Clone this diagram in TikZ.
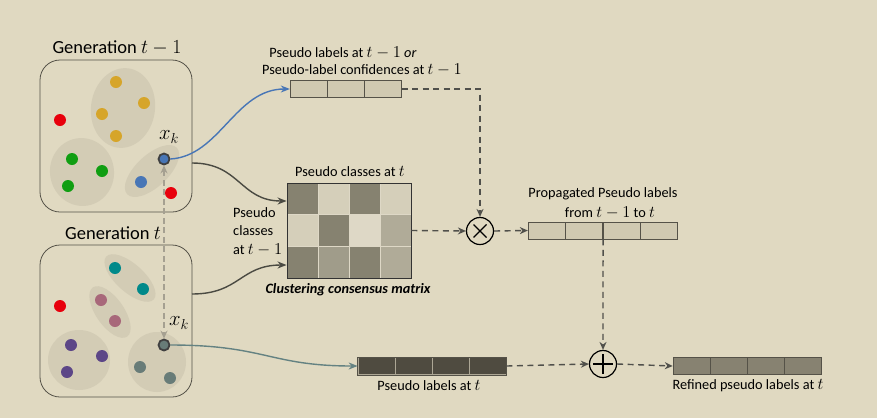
\documentclass[tikz,border=0pt]{standalone}
\usepackage{fontspec}
\setmainfont{Carlito}
\usetikzlibrary{arrows.meta,calc}
\definecolor{bg}{RGB}{224,217,193}
\definecolor{ellc}{RGB}{211,204,181}
\definecolor{framec}{RGB}{85,82,72}
\definecolor{cyel}{RGB}{214,165,42}
\definecolor{cred}{RGB}{232,0,12}
\definecolor{cgreen}{RGB}{16,158,18}
\definecolor{cblue}{RGB}{72,118,182}
\definecolor{cteal}{RGB}{0,137,138}
\definecolor{cpink}{RGB}{168,104,122}
\definecolor{cpurple}{RGB}{92,70,135}
\definecolor{cgrey}{RGB}{104,124,120}
\definecolor{cdark}{RGB}{134,130,112}
\definecolor{clight}{RGB}{213,207,186}
\definecolor{clighter}{RGB}{222,216,198}
\definecolor{cmed}{RGB}{176,171,152}
\definecolor{cmedb}{RGB}{160,156,138}
\definecolor{boxc}{RGB}{208,201,177}
\definecolor{darkbox}{RGB}{79,75,64}
\definecolor{refc}{RGB}{135,130,113}
\definecolor{dashc}{RGB}{80,80,75}
\definecolor{curvec}{RGB}{74,74,66}
\definecolor{tealcurve}{RGB}{100,130,130}
\definecolor{vdash}{RGB}{165,160,145}
\newcommand\mb[1]{\smash{\scalebox{1.15}{$#1$}}}
\begin{document}
\begin{tikzpicture}[x=1pt,y=-1pt,
  genbox/.style={draw=framec,line width=0.8pt,rounded corners=20pt,minimum width=152pt,minimum height=152pt,inner sep=0pt},
  dot/.style={circle,fill=#1,minimum size=12pt,inner sep=0pt},
  xkdot/.style={circle,fill=#1,draw=black!75,line width=1.8pt,minimum size=11pt,inner sep=0pt},
  ell/.style={fill=ellc},
  lbl/.style={font=\fontsize{14.3}{17}\selectfont,inner sep=0pt},
  ttl/.style={font=\fontsize{18.5}{21}\selectfont,inner sep=0pt},
  xkl/.style={font=\fontsize{22}{24}\selectfont,inner sep=0pt},
  cellc/.style={draw=framec,line width=0.7pt,minimum width=37pt,minimum height=17pt,inner sep=0pt,fill=#1},
  mcell/.style={draw=clighter,line width=1pt,minimum width=31pt,minimum height=31.67pt,inner sep=0pt,fill=#1},
  dsh/.style={draw=dashc,line width=1.4pt,dash pattern=on 6pt off 4.5pt,-{Stealth[length=8pt,width=7pt]}},
  opc/.style={circle,draw=black,line width=1.2pt,minimum size=27pt,inner sep=0pt},
  crv/.style={line width=1.4pt,-{Stealth[length=9pt,width=7pt]}}
]
\fill[bg] (0,0) rectangle (877,418);
\useasboundingbox (0,0) rectangle (877,418);

% ---------- Generation t-1 ----------
\node[ttl] (t1) at (117,47) {Generation \mb{t-1}};
\node[genbox] (g1) at (116,136) {};
\fill[ell,rotate around={-8:(123,108)}] (123,108) ellipse [x radius=32,y radius=40];
\fill[ell,rotate around={10:(82,172)}] (82,172) ellipse [x radius=32,y radius=34];
\fill[ell,rotate around={43:(152,171)}] (152,171) ellipse [x radius=34,y radius=16];
\node[dot=cyel] (y1) at (116,82) {};
\node[dot=cyel] (y2) at (144,103) {};
\node[dot=cyel] (y3) at (102,114) {};
\node[dot=cyel] (y4) at (116,136) {};
\node[dot=cred] (r1) at (60,120) {};
\node[dot=cred] (r2) at (171,193) {};
\node[dot=cgreen] (gr1) at (72,159) {};
\node[dot=cgreen] (gr2) at (102,171) {};
\node[dot=cgreen] (gr3) at (68,186) {};
\node[dot=cblue] (b1) at (141,182) {};
\node[xkdot=cblue] (xa) at (164,159) {};
\node[xkl] (xal) at (169,137) {$x_k$};

% ---------- Generation t ----------
\node[ttl] (t2) at (113,233) {Generation \mb{t}};
\node[genbox] (g2) at (116,321) {};
\fill[ell,rotate around={-42:(130,278)}] (130,278) ellipse [x radius=32,y radius=14];
\fill[ell,rotate around={-55:(110,312)}] (110,312) ellipse [x radius=30,y radius=14];
\fill[ell] (79,360) ellipse [x radius=31,y radius=30];
\fill[ell] (157,362) ellipse [x radius=29,y radius=30];
\node[dot=cteal] (te1) at (115,268) {};
\node[dot=cteal] (te2) at (143,289) {};
\node[dot=cpink] (p1) at (101,300) {};
\node[dot=cpink] (p2) at (115,321) {};
\node[dot=cred] (r3) at (60,306) {};
\node[dot=cpurple] (pu1) at (71,345) {};
\node[dot=cpurple] (pu2) at (102,356) {};
\node[dot=cpurple] (pu3) at (67,372) {};
\node[dot=cgrey] (gy1) at (140,367) {};
\node[dot=cgrey] (gy2) at (170,378) {};
\node[xkdot=cgrey] (xb) at (164,345) {};
\node[xkl] (xbl) at (179,323) {$x_k$};

% vertical dashed double arrow
\draw[vdash,line width=1.3pt,dash pattern=on 6pt off 3.5pt,{Stealth[length=8pt,width=7pt]}-{Stealth[length=8pt,width=7pt]}] (xa.south) -- (xb.north);

% ---------- top label box ----------
\node[lbl] (tl1) at (343,53) {Pseudo labels at \mb{t-1} \textit{or}};
\node[lbl] (tl2) at (362,70) {Pseudo-label confidences at \mb{t-1}};
\node[cellc=boxc] (a1) at (308.7,89) {};
\node[cellc=boxc] (a2) at (345.7,89) {};
\node[cellc=boxc] (a3) at (382.7,89) {};

% ---------- matrix ----------
\foreach \c [count=\i] in {cdark,clight,cdark,clight}{\node[mcell=\c] (m1\i) at ({287+15.5+31*(\i-1)},{183+15.83}) {};}
\foreach \c [count=\i] in {clight,cdark,clighter,cmed}{\node[mcell=\c] (m2\i) at ({287+15.5+31*(\i-1)},{183+47.5}) {};}
\foreach \c [count=\i] in {cdark,cmedb,cdark,cmed}{\node[mcell=\c] (m3\i) at ({287+15.5+31*(\i-1)},{183+79.17}) {};}
\node[draw=black!80,line width=0.9pt,minimum width=124pt,minimum height=95pt,inner sep=0pt] (mat) at (349,230.5) {};
\node[lbl] (mt) at (350,172) {Pseudo classes at \mb{t}};
\node[lbl,align=left,anchor=west,font=\fontsize{14.3}{18.5}\selectfont] (ml) at (233,231) {Pseudo\\classes\\at \mb{t-1}};
\node[lbl,font=\fontsize{14.3}{17}\selectfont\bfseries\itshape] (mb) at (348,290) {Clustering consensus matrix};

% ---------- operators ----------
\node[opc] (ot) at (480,231) {};
\draw[line width=1.1pt] ($(ot.center)+(-6.5,-6.5)$) -- ($(ot.center)+(6.5,6.5)$) ($(ot.center)+(-6.5,6.5)$) -- ($(ot.center)+(6.5,-6.5)$);
\node[opc] (op) at (603,364) {};
\draw[line width=1.1pt] ($(op.center)+(-10,0)$) -- ($(op.center)+(10,0)$) ($(op.center)+(0,-10)$) -- ($(op.center)+(0,10)$);

% ---------- propagated ----------
\node[lbl] (pl1) at (603,194) {Propagated Pseudo labels};
\node[lbl] (pl2) at (610,212.5) {from \mb{t-1} to \mb{t}};
\node[cellc=boxc] (c1) at (546.7,230.5) {};
\node[cellc=boxc] (c2) at (584.2,230.5) {};
\node[cellc=boxc] (c3) at (621.7,230.5) {};
\node[cellc=boxc] (c4) at (659.2,230.5) {};

% ---------- pseudo labels at t ----------
\node[cellc=darkbox,draw=clight!70!darkbox] (d1) at (376.5,366) {};
\node[cellc=darkbox,draw=clight!70!darkbox] (d2) at (413.5,366) {};
\node[cellc=darkbox,draw=clight!70!darkbox] (d3) at (450.5,366) {};
\node[cellc=darkbox,draw=clight!70!darkbox] (d4) at (487.5,366) {};
\draw[framec,line width=0.7pt] (d1.north west) rectangle (d4.south east);
\node[lbl] (dl) at (429,386) {Pseudo labels at \mb{t}};

% ---------- refined ----------
\node[cellc=refc] (e1) at (691.6,366) {};
\node[cellc=refc] (e2) at (728.6,366) {};
\node[cellc=refc] (e3) at (765.6,366) {};
\node[cellc=refc] (e4) at (802.6,366) {};
\node[lbl] (el) at (748,386) {Refined pseudo labels at \mb{t}};

% ---------- connectors ----------
\draw[crv,cblue] (xa.east) .. controls (220,156) and (235,89) .. (a1.west);
\draw[crv,curvec] (192,163) .. controls (240,163) and (240,201) .. (mat.west |- 0,201);
\draw[crv,curvec] (192,294) .. controls (240,294) and (240,265) .. (mat.west |- 0,265);
\draw[crv,tealcurve] (xb.east) .. controls (265,345) and (270,366) .. (d1.west);

\draw[dsh] (a3.east) -| (ot.north);
\draw[dsh] (mat.east) -- (ot.west);
\draw[dsh] (ot.east) -- (c1.west);
\draw[dsh] (c2.south east) -- (op.north);
\draw[dsh] (d4.east) -- (op.west);
\draw[dsh] (op.east) -- (e1.west);
\end{tikzpicture}
\end{document}
